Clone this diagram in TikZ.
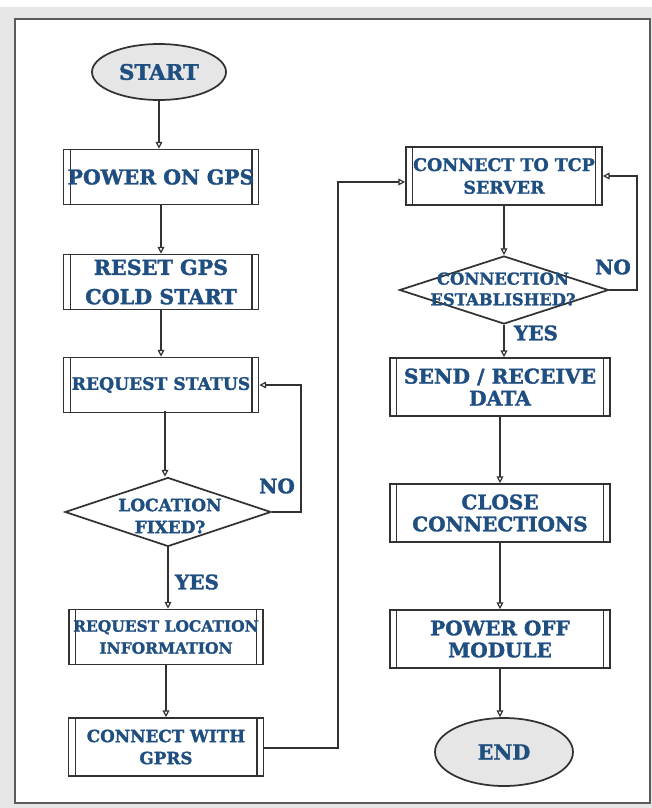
\documentclass[tikz,border=0pt]{standalone}
\usepackage{fontspec}
\setmainfont{DejaVu Serif}[BoldFeatures={FakeBold=1.6}]
\usetikzlibrary{shapes.geometric,arrows.meta}
\definecolor{txtblue}{RGB}{31,78,128}
\definecolor{edge}{RGB}{50,50,50}
\definecolor{bggray}{RGB}{230,230,230}
\newcommand{\fs}[2]{\fontsize{#1}{#2}\selectfont}
\begin{document}
\begin{tikzpicture}[x=0.75pt,y=-0.75pt,
  txt/.style={text=txtblue,align=center,inner sep=0pt},
  term/.style={txt,ellipse,draw=edge,line width=1.3pt,fill=bggray},
  pbox/.style={txt,rectangle,draw=edge,line width=1.3pt,fill=white,
    path picture={
      \draw[edge,line width=1pt] ([xshift=5pt]path picture bounding box.north west) -- ([xshift=5pt]path picture bounding box.south west);
      \draw[edge,line width=1pt] ([xshift=-5pt]path picture bounding box.north east) -- ([xshift=-5pt]path picture bounding box.south east);}},
  dec/.style={diamond,draw=edge,line width=1.3pt,fill=white,inner sep=0pt},
  lbl/.style={text=txtblue,font=\bfseries\fs{15}{16},inner sep=0pt},
  arr/.style={draw=edge,line width=0.9pt,-{Triangle[open,length=5pt,width=5pt]}},
  ln/.style={draw=edge,line width=0.9pt}]
\useasboundingbox (0,0) rectangle (652,808);
\fill[bggray] (0,7) rectangle (652,808);
\draw[fill=white,draw=edge!80,line width=1.2pt] (15,19) rectangle (650,803);

% left column
\node[term,minimum width=134*0.75pt,minimum height=56*0.75pt,font=\bfseries\fs{16}{18}] (start) at (159,72) {START};
\node[pbox,minimum width=195*0.75pt,minimum height=55*0.75pt,font=\bfseries\fs{15.3}{17}] (pon) at (161,177) {POWER ON GPS};
\node[pbox,minimum width=195*0.75pt,minimum height=55*0.75pt,font=\bfseries\fs{15.5}{22}] (reset) at (161,282) {RESET GPS\\COLD START};
\node[pbox,minimum width=195*0.75pt,minimum height=55*0.75pt,font=\bfseries\fs{12.9}{14}] (reqs) at (161,385) {REQUEST STATUS};
\node[dec,minimum width=206*0.75pt,minimum height=69*0.75pt] (locf) at (168,512) {};
\node[txt,font=\bfseries\fs{12.7}{16.5}] (locft) at (170,516) {LOCATION\\FIXED?};
\node[pbox,minimum width=194*0.75pt,minimum height=55*0.75pt,font=\bfseries\fs{11.6}{16.5}] (reql) at (166,637) {REQUEST LOCATION\\INFORMATION};
\node[pbox,minimum width=195*0.75pt,minimum height=58*0.75pt,font=\bfseries\fs{12.6}{16.5}] (gprs) at (166,747) {CONNECT WITH\\GPRS};

% right column
\node[pbox,minimum width=196*0.75pt,minimum height=58*0.75pt,font=\bfseries\fs{13.1}{17}] (tcp) at (504,176) {CONNECT TO TCP\\SERVER};
\node[dec,minimum width=209*0.75pt,minimum height=68*0.75pt] (est) at (504,290) {};
\node[txt,font=\bfseries\fs{12.3}{15.5}] (estt) at (503,289) {CONNECTION\\ESTABLISHED?};
\node[pbox,minimum width=220*0.75pt,minimum height=58*0.75pt,font=\bfseries\fs{15.2}{16.5}] (send) at (500,387) {SEND / RECEIVE\\DATA};
\node[pbox,minimum width=220*0.75pt,minimum height=58*0.75pt,font=\bfseries\fs{15}{16.5}] (close) at (500,513) {CLOSE\\CONNECTIONS};
\node[pbox,minimum width=220*0.75pt,minimum height=58*0.75pt,font=\bfseries\fs{15}{16.5}] (poff) at (500,639) {POWER OFF\\MODULE};
\node[term,minimum width=138*0.75pt,minimum height=68*0.75pt,font=\bfseries\fs{15.5}{17}] (end) at (504,752) {END};

% labels
\node[lbl] (no1) at (277,486) {NO};
\node[lbl] (yes1) at (197,582) {YES};
\node[lbl] (no2) at (613,267) {NO};
\node[lbl] (yes2) at (536,333) {YES};

% coordinates
\coordinate (c1) at (301,512);
\coordinate (c2) at (301,385);
\coordinate (c3) at (338,748);
\coordinate (c4) at (338,182);
\coordinate (c5) at (637,290);
\coordinate (c6) at (637,176);
\coordinate (c7) at (165,411);

% connectors
\draw[arr] (start.south) -- (pon.north -| start.south);
\draw[arr] (pon.south) -- (reset.north);
\draw[arr] (reset.south) -- (reqs.north);
\draw[arr] (c7) -- (locf.north -| c7);
\draw[arr] (locf.east) -- (c1) -- (c2) -- (reqs.east);
\draw[arr] (locf.south) -- (reql.north -| locf.south);
\draw[arr] (reql.south) -- (gprs.north);
\draw[arr] (gprs.east |- c3) -- (c3) -- (c4) -- (tcp.west |- c4);
\draw[arr] (tcp.south) -- (est.north -| tcp.south);
\draw[arr] (est.east) -- (c5) -- (c6) -- (tcp.east);
\draw[arr] (est.south) -- (send.north -| est.south);
\draw[arr] (send.south) -- (close.north);
\draw[arr] (close.south) -- (poff.north);
\draw[arr] (poff.south) -- (end.north -| poff.south);
\end{tikzpicture}
\end{document}
